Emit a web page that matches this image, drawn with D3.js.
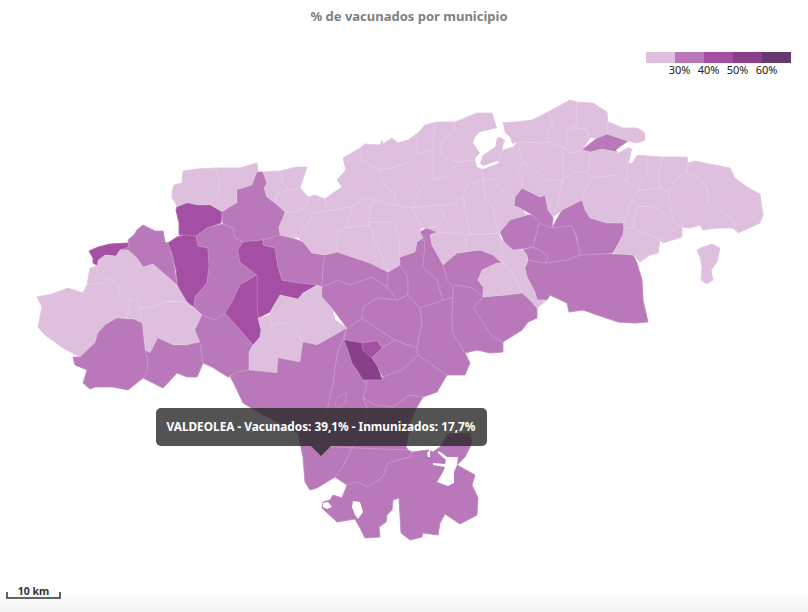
<!DOCTYPE html>
<html>
<head>
<meta charset="utf-8">
<script src="https://cdn.jsdelivr.net/npm/d3@7"></script>
<style>
html, body { margin: 0; padding: 0; }
body { width: 808px; height: 612px; overflow: hidden; background: linear-gradient(to bottom, #fff 0, #fff 588px, #f4f4f4 612px); font-family: "Noto Sans", sans-serif; }
svg { display: block; }
</style>
</head>
<body>
<div id="map"></div>
<script>

var titleText = "% de vacunados por municipio";
var tooltipText = "VALDEOLEA - Vacunados: 39,1% - Inmunizados: 17,7%";
var scaleLabel = "10 km";

// colour classes of the legend
var thresholds = [30, 40, 50, 60];
var classColors = ["#debfde", "#b978b9", "#a44fa3", "#893f8a", "#673a6f"];
var legendDomain = [20, 70];

// % vaccinated, read from the class colour of each municipality (estimates)
var muniValues = [
  26, 26, 44, 35, 44, 35, 44, 35, 44, 44,
  35, 26, 26, 26, 26, 35, 35, 35, 26, 26,
  35, 35, 35, 53, 44, 35, 35, 35, 35, 35,
  35, 35, 35, 35, 35, 35, 35, 35, 35, 35,
  35, 35, 35, 35, 35, 39.1, 35, 35, 35, 26,
  26, 26, 26, 26, 26, 26, 26, 26, 26, 26,
  26, 26, 26, 26, 26, 26, 26, 26, 26, 26,
  26, 26, 26, 26, 26, 26, 26, 26, 26, 26,
  26, 26, 26, 26, 26, 26, 26, 26, 26, 26,
  26, 26, 26, 26
];

// municipality outlines, in map units
var muniRings = [
  [[172,192],[174,185],[182,183],[183,171],[197,169],[215,168],[220,180],[218,195],[210,205],[197,205],[187,203],[177,207],[175,202],[172,198]],
  [[215,168],[240,168],[257,163],[258,172],[252,185],[237,190],[237,203],[230,207],[222,212],[210,205],[218,195],[220,180]],
  [[177,207],[187,203],[197,205],[210,205],[222,212],[221,223],[207,228],[196,236],[185,235],[179,235],[179,223],[176,210]],
  [[237,190],[252,185],[257,172],[263,172],[267,183],[264,188],[267,197],[275,203],[285,212],[283,218],[279,227],[280,235],[263,240],[243,242],[235,238],[233,228],[223,224],[222,212],[230,207],[237,203]],
  [[89,251],[98,247],[110,244],[128,243],[129,247],[120,250],[116,256],[105,255],[102,260],[98,266],[93,263],[93,258]],
  [[129,247],[128,240],[134,235],[137,230],[143,225],[155,231],[163,231],[165,242],[168,243],[173,260],[177,285],[168,277],[162,272],[153,264],[143,267],[137,258],[128,250],[120,250]],
  [[168,243],[177,237],[185,235],[196,236],[198,246],[208,248],[209,267],[207,283],[195,297],[194,307],[183,300],[178,288],[176,270],[172,253]],
  [[196,236],[207,228],[223,224],[233,228],[235,238],[243,242],[238,250],[240,262],[257,275],[240,285],[232,302],[225,313],[215,320],[202,315],[194,307],[195,297],[207,283],[209,267],[208,248],[198,246]],
  [[243,242],[263,240],[263,245],[275,248],[278,267],[282,280],[293,282],[317,285],[303,293],[298,299],[280,295],[270,312],[258,318],[257,302],[257,275],[240,262],[238,250]],
  [[257,275],[257,302],[258,318],[261,330],[260,337],[253,345],[240,330],[225,313],[232,302],[240,285]],
  [[263,240],[280,235],[292,238],[303,242],[312,253],[325,255],[323,267],[322,287],[317,285],[293,282],[282,280],[278,267],[275,248],[263,245]],
  [[37,297],[52,294],[68,288],[83,293],[87,285],[102,283],[107,277],[118,284],[120,293],[130,300],[127,319],[117,318],[105,325],[98,333],[95,343],[80,357],[63,348],[45,335],[38,327],[42,307]],
  [[87,285],[90,268],[97,266],[98,260],[105,255],[116,256],[120,250],[128,250],[137,258],[143,267],[153,264],[162,272],[168,277],[177,285],[187,302],[173,301],[163,302],[155,307],[140,308],[137,300],[130,300],[120,293],[118,284],[107,277],[102,283]],
  [[130,300],[137,300],[140,308],[142,323],[133,319],[127,319]],
  [[140,308],[155,307],[163,302],[187,302],[202,315],[195,330],[200,342],[187,345],[173,345],[158,338],[150,353],[145,350],[142,323]],
  [[73,357],[80,357],[95,343],[98,333],[105,325],[117,318],[127,319],[133,319],[142,323],[145,350],[148,360],[147,373],[143,378],[128,390],[113,387],[95,387],[90,389],[83,383],[87,370],[75,365]],
  [[145,350],[150,353],[158,338],[173,345],[187,345],[200,342],[203,363],[197,377],[187,377],[177,373],[163,388],[143,378],[147,373],[148,360]],
  [[195,330],[202,315],[215,320],[225,313],[240,330],[253,345],[249,352],[249,370],[237,372],[230,376],[228,377],[212,367],[203,363],[200,342]],
  [[258,318],[270,315],[272,327],[278,323],[292,323],[303,342],[300,362],[278,358],[277,373],[249,370],[249,352],[253,345],[260,337],[261,330]],
  [[270,312],[280,295],[298,299],[303,293],[317,285],[322,287],[330,305],[332,308],[335,320],[347,328],[335,335],[317,345],[303,342],[292,323],[278,323],[272,327],[270,315]],
  [[230,376],[237,372],[249,370],[277,373],[278,358],[300,362],[303,342],[317,345],[335,335],[347,328],[337,355],[333,385],[328,407],[320,430],[298,433],[260,413],[243,403],[237,390]],
  [[347,328],[344,340],[348,350],[352,363],[357,370],[363,380],[367,383],[363,398],[367,407],[365,430],[352,448],[320,446],[320,430],[328,407],[333,385],[337,355]],
  [[347,328],[362,318],[375,327],[395,340],[382,348],[377,341],[362,343],[344,340]],
  [[344,340],[362,343],[363,350],[372,358],[378,367],[382,380],[363,380],[357,370],[352,363],[348,350]],
  [[362,343],[377,341],[382,348],[372,358],[363,350]],
  [[382,348],[395,340],[417,348],[418,355],[402,370],[383,377],[378,367],[372,358]],
  [[363,380],[382,380],[383,377],[402,370],[418,355],[447,375],[437,392],[423,397],[410,395],[393,407],[375,405],[363,398],[367,383]],
  [[363,398],[375,405],[393,407],[410,395],[423,397],[417,407],[410,423],[406,447],[408,450],[352,448],[365,430],[367,407]],
  [[325,255],[337,252],[355,258],[370,263],[388,272],[387,287],[372,277],[350,285],[338,280],[322,287],[323,267]],
  [[322,287],[338,280],[350,285],[372,277],[387,287],[397,300],[377,298],[363,307],[362,318],[347,328],[332,308],[322,297]],
  [[388,272],[400,265],[408,277],[408,295],[397,300],[387,287]],
  [[377,298],[397,300],[408,295],[420,308],[422,323],[417,348],[395,340],[375,327],[362,318],[363,307]],
  [[420,308],[443,300],[453,297],[452,317],[453,333],[465,353],[470,363],[465,375],[447,375],[418,355],[417,348],[422,323]],
  [[400,257],[415,252],[417,242],[423,238],[425,243],[423,267],[437,280],[443,300],[420,308],[408,295],[408,277],[400,265],[388,272]],
  [[420,232],[427,228],[437,232],[430,235],[432,245],[443,265],[447,280],[453,287],[453,297],[443,300],[437,280],[423,267],[425,243],[423,238]],
  [[443,265],[457,253],[465,252],[480,250],[493,255],[502,263],[497,263],[482,270],[478,280],[483,287],[483,297],[472,288],[455,285],[453,287],[447,280]],
  [[453,297],[453,287],[455,285],[472,288],[483,297],[473,307],[483,323],[493,337],[503,342],[503,352],[490,353],[477,350],[465,353],[453,333],[452,317]],
  [[483,297],[507,295],[522,293],[528,298],[537,308],[537,318],[528,322],[522,330],[503,342],[493,337],[483,323],[473,307]],
  [[525,268],[528,260],[545,263],[567,260],[580,255],[608,254],[633,255],[637,263],[642,280],[643,300],[648,322],[635,323],[618,322],[603,317],[583,310],[569,312],[567,303],[550,295],[547,300],[537,300],[535,292],[527,277]],
  [[552,228],[562,210],[582,200],[585,210],[590,218],[607,223],[624,223],[623,235],[613,253],[580,255],[577,237],[572,226]],
  [[522,188],[540,197],[545,195],[548,210],[553,217],[552,228],[538,223],[533,215],[520,208],[514,206],[515,197]],
  [[500,232],[510,220],[527,215],[533,215],[539,223],[533,247],[513,250],[505,243]],
  [[539,223],[552,228],[572,226],[576,237],[580,255],[567,260],[545,263],[548,257],[543,252],[533,247]],
  [[523,250],[533,247],[543,252],[548,257],[545,263],[528,260],[527,255]],
  [[582,150],[597,138],[607,134],[628,141],[618,148],[617,152],[602,149],[590,152]],
  [[298,433],[320,430],[320,446],[352,448],[343,467],[335,477],[317,488],[310,490],[305,482],[303,457]],
  [[335,477],[343,467],[352,448],[408,450],[412,452],[410,457],[388,463],[383,477],[367,487],[357,482],[347,485]],
  [[347,485],[357,482],[367,487],[383,477],[388,463],[410,457],[412,452],[428,450],[433,452],[440,447],[448,434],[470,433],[472,443],[465,457],[457,465],[475,475],[472,485],[478,498],[477,515],[460,524],[445,514],[440,523],[438,535],[423,533],[422,537],[410,540],[401,533],[399,498],[393,500],[392,510],[387,515],[386,522],[379,527],[380,537],[365,538],[360,528],[355,519],[337,522],[322,508],[323,502],[330,500],[333,495],[342,498]],
  [[337,397],[347,392],[345,403],[340,407],[335,406]],
  [[497,263],[503,263],[515,277],[522,293],[507,295],[483,297],[483,287],[478,280],[482,270]],
  [[500,237],[505,243],[513,250],[523,250],[527,255],[528,260],[525,268],[527,277],[535,292],[537,300],[547,300],[537,308],[528,298],[522,293],[515,277],[503,263],[502,250]],
  [[263,172],[280,171],[284,185],[289,190],[278,193],[275,203],[267,197],[264,188],[267,183]],
  [[280,171],[297,167],[307,167],[300,188],[289,190],[284,185]],
  [[289,190],[300,188],[308,197],[307,205],[297,212],[285,212],[275,203],[278,193]],
  [[285,212],[297,212],[307,205],[308,197],[315,195],[325,199],[328,211],[313,213],[308,223],[298,237],[292,238],[280,235],[279,227],[283,218]],
  [[327,211],[350,207],[352,212],[345,228],[338,232],[337,252],[325,255],[312,253],[303,242],[298,237],[308,223],[313,213]],
  [[350,207],[367,198],[373,200],[368,222],[370,225],[345,228],[352,212]],
  [[338,232],[345,228],[370,225],[375,242],[383,258],[388,272],[370,263],[355,258],[337,252]],
  [[370,225],[368,222],[393,222],[399,237],[400,257],[400,265],[388,272],[383,258],[375,242]],
  [[373,200],[395,205],[412,208],[418,220],[421,228],[420,232],[423,238],[417,242],[415,252],[400,257],[399,237],[393,222],[368,222]],
  [[343,158],[360,148],[362,160],[380,170],[383,182],[392,192],[395,193],[395,205],[373,200],[367,198],[350,207],[327,211],[325,199],[333,193],[342,187],[337,180],[346,170]],
  [[360,148],[365,144],[380,145],[382,140],[383,144],[392,138],[398,143],[408,140],[418,133],[417,145],[418,153],[408,163],[395,167],[380,170],[362,160]],
  [[380,170],[395,167],[408,163],[418,153],[433,150],[433,180],[420,190],[412,208],[395,205],[395,193],[392,192],[383,182]],
  [[418,133],[425,125],[437,122],[434,133],[433,150],[418,153],[417,145]],
  [[437,122],[455,122],[455,132],[448,135],[443,143],[440,148],[443,158],[460,162],[445,177],[433,180],[433,150],[434,133]],
  [[455,122],[465,118],[477,113],[492,113],[505,135],[500,160],[480,167],[473,160],[460,162],[443,158],[440,148],[443,143],[448,135],[455,132]],
  [[433,180],[445,177],[460,162],[473,160],[482,168],[483,180],[467,185],[463,197],[450,205],[440,205],[412,208],[420,190]],
  [[482,168],[498,161],[503,150],[513,147],[518,142],[523,163],[517,172],[523,178],[522,188],[515,197],[500,188],[493,178],[483,180]],
  [[483,180],[493,178],[500,188],[515,197],[514,206],[520,208],[527,215],[510,220],[500,232],[495,225],[493,208],[485,197]],
  [[463,197],[467,185],[483,180],[485,197],[493,208],[495,225],[500,233],[470,235]],
  [[412,208],[440,205],[445,217],[437,227],[427,228],[421,228],[418,220]],
  [[440,205],[450,205],[463,197],[470,235],[437,232],[427,228],[437,227],[445,217]],
  [[437,232],[465,234],[467,247],[465,252],[457,253],[443,265],[432,245],[430,235]],
  [[465,234],[470,235],[500,233],[500,237],[502,250],[503,263],[502,263],[493,255],[480,250],[465,252],[467,247]],
  [[497,123],[515,122],[532,120],[548,112],[553,123],[547,133],[550,142],[540,143],[518,142],[505,145]],
  [[518,142],[540,143],[550,142],[563,147],[563,180],[547,180],[528,165],[523,163]],
  [[517,172],[523,163],[528,165],[547,180],[563,180],[558,203],[553,217],[548,210],[545,195],[540,197],[522,188],[523,178]],
  [[548,112],[570,100],[577,102],[576,128],[570,128],[567,130],[566,150],[563,147],[550,142],[547,133],[553,123]],
  [[567,130],[570,128],[585,128],[590,138],[582,150],[572,153],[566,150]],
  [[577,102],[593,103],[607,112],[608,122],[607,134],[597,138],[590,138],[585,128],[576,128]],
  [[608,122],[623,128],[637,128],[644,132],[645,140],[637,143],[628,141],[607,134]],
  [[563,147],[566,150],[572,153],[582,150],[590,152],[590,163],[587,172],[573,172],[563,180]],
  [[563,180],[573,172],[587,172],[593,177],[587,187],[582,200],[562,210],[553,217],[558,203]],
  [[590,152],[602,149],[617,152],[630,147],[628,163],[627,182],[618,175],[605,177],[593,177],[587,172],[590,163]],
  [[593,177],[605,177],[618,175],[627,182],[640,190],[633,197],[625,218],[623,223],[607,223],[590,218],[585,210],[582,200],[587,187]],
  [[630,147],[637,155],[648,156],[647,167],[647,175],[640,180],[640,190],[627,182],[628,163]],
  [[648,156],[663,157],[658,175],[660,188],[640,190],[640,180],[647,175],[647,167]],
  [[663,157],[687,157],[688,163],[687,173],[678,177],[668,192],[660,188],[658,175]],
  [[688,163],[695,161],[730,168],[735,178],[747,187],[760,194],[763,215],[760,223],[738,233],[730,217],[708,203],[707,188],[702,180],[687,173]],
  [[687,173],[702,180],[707,188],[708,203],[730,217],[738,233],[733,228],[717,228],[703,230],[700,225],[690,228],[682,227],[673,222],[668,192],[678,177]],
  [[640,190],[660,188],[668,192],[673,222],[663,213],[653,206],[638,207],[632,228],[624,228],[623,223],[625,218],[633,197]],
  [[632,228],[638,207],[653,206],[663,213],[673,222],[682,227],[682,237],[663,243],[660,240]],
  [[624,228],[632,228],[660,240],[658,253],[650,255],[640,262],[633,255],[613,253],[623,235]],
  [[697,250],[703,247],[712,244],[720,248],[717,262],[711,270],[713,280],[707,284],[701,280],[702,267],[700,257]]
];

// bays and reservoirs, same map units, painted over the land
var waterRings = [
  [[492,112],[503,123],[505,133],[510,137],[513,147],[503,147],[505,140],[500,137],[497,138],[495,147],[483,155],[480,163],[483,166],[498,161],[499,163],[483,169],[477,167],[475,158],[480,153],[473,143],[475,137],[480,132],[497,128]],
  [[616,150],[628,143],[637,144],[645,141],[652,150],[648,155],[637,155],[632,163],[629,163],[632,149],[629,147],[618,153]],
  [[427,453],[430,450],[430,457],[428,457]],
  [[438,451],[442,453],[447,457],[458,457],[457,465],[454,472],[454,483],[448,486],[437,482],[443,472],[445,467],[433,465],[433,463],[445,464],[446,460],[438,453]],
  [[323,503],[328,502],[332,507],[327,509],[323,507]],
  [[353,501],[360,502],[363,512],[358,519],[355,515],[352,507]]
];

var width = 808, height = 612;

var color = d3.scaleThreshold().domain(thresholds).range(classColors);

var svg = d3.select("#map").append("svg")
    .attr("width", width)
    .attr("height", height);

// geojson rings have to repeat the first point
function closed(ring) { return ring.concat([ring[0]]); }

var land = {
  type: "FeatureCollection",
  features: muniRings.map(function(ring, i) {
    return { type: "Feature", properties: { value: muniValues[i] }, geometry: { type: "Polygon", coordinates: [closed(ring)] } };
  })
};
var water = {
  type: "FeatureCollection",
  features: waterRings.map(function(ring) {
    return { type: "Feature", geometry: { type: "Polygon", coordinates: [closed(ring)] } };
  })
};

// the rings are already planar so no real projection, only a fit
var projection = d3.geoIdentity().fitExtent([[37, 100], [763, 540]], land);
var path = d3.geoPath(projection);

var g = svg.append("g");

// first pass closes the hairline gaps between neighbours
g.selectAll("path.under")
    .data(land.features)
    .enter().append("path")
    .attr("class", "under")
    .attr("d", path)
    .style("fill", function(d) { return color(d.properties.value); })
    .style("stroke", function(d) { return color(d.properties.value); })
    .style("stroke-width", 0.8);

g.selectAll("path.muni")
    .data(land.features)
    .enter().append("path")
    .attr("class", "muni")
    .attr("d", path)
    .style("fill", function(d) { return color(d.properties.value); })
    .style("stroke", "#fff")
    .style("stroke-opacity", 0.3)
    .style("stroke-width", 0.5);

g.selectAll("path.water")
    .data(water.features)
    .enter().append("path")
    .attr("class", "water")
    .attr("d", path)
    .style("fill", "#fff");

// title
svg.append("text")
    .attr("x", 409)
    .attr("y", 21)
    .style("text-anchor", "middle")
    .style("font-size", "13px")
    .style("font-weight", 700)
    .style("fill", "#808080")
    .text(titleText);

// legend
var legendX = d3.scaleLinear().domain(legendDomain).range([646, 791]);
var legendStops = [legendDomain[0]].concat(thresholds, [legendDomain[1]]);
var legend = svg.append("g");

legend.selectAll("rect")
    .data(classColors)
    .enter().append("rect")
    .attr("x", function(d, i) { return legendX(legendStops[i]); })
    .attr("y", 52)
    .attr("width", function(d, i) { return legendX(legendStops[i + 1]) - legendX(legendStops[i]); })
    .attr("height", 11)
    .style("fill", function(d) { return d; });

var legendAxis = legend.append("g")
    .attr("transform", "translate(4,63)")
    .call(d3.axisBottom(legendX).tickValues(thresholds).tickSize(0).tickPadding(3).tickFormat(function(d) { return d + "%"; }));
legendAxis.select(".domain").remove();
legendAxis.selectAll("text")
    .style("font-family", '"Noto Sans", sans-serif')
    .style("font-size", "11px")
    .style("fill", "#222");

// scale bar
var km = d3.scaleLinear().domain([0, 10]).range([7, 60]);
var bar = svg.append("g");
bar.append("path")
    .attr("d", "M" + km(0) + ",592V598H" + km(10) + "V592")
    .style("fill", "none")
    .style("stroke", "#333")
    .style("stroke-width", 1.5);
bar.append("text")
    .attr("x", km(5))
    .attr("y", 595)
    .style("text-anchor", "middle")
    .style("font-size", "10.5px")
    .style("font-weight", 700)
    .style("fill", "#333")
    .text(scaleLabel);

// tooltip, pointing at Valdeolea
var tip = svg.append("g");
tip.append("rect")
    .attr("x", 156)
    .attr("y", 408)
    .attr("width", 331)
    .attr("height", 38)
    .attr("rx", 5)
    .style("fill", "rgba(40,40,40,0.8)");
tip.append("path")
    .attr("d", "M311,446L321,456L331,446Z")
    .style("fill", "rgba(40,40,40,0.8)");
tip.append("text")
    .attr("x", 321)
    .attr("y", 431)
    .style("text-anchor", "middle")
    .style("font-size", "11.8px")
    .style("font-weight", 700)
    .style("fill", "#fff")
    .text(tooltipText);

</script>
</body>
</html>
